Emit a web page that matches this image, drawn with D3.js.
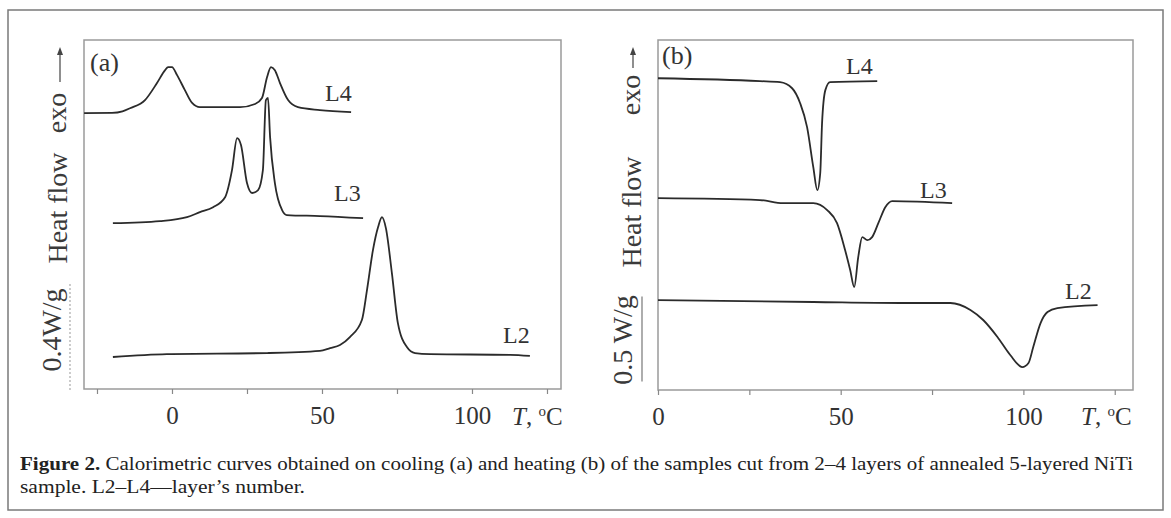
<!DOCTYPE html>
<html>
<head>
<meta charset="utf-8">
<style>
	body { margin: 0; background: #fff; }
	svg { display: block; font-family: "Liberation Serif", "Times New Roman", serif; }
	.curve { fill: none; stroke: #2b2b2b; stroke-width: 1.8px; }
	.frame { fill: none; stroke: #9a9a9a; stroke-width: 1.5px; }
	.lab { fill: #333; font-size: 24px; }
	.ylab { fill: #3a3a3a; font-size: 28px; }
</style>
</head>
<body>
<script src="https://cdn.jsdelivr.net/npm/d3@7"></script>
<script>

// ---- data (T in degC, heat flow in W/g, curves offset) ----

// (a) cooling
var tempA_L4 = [-29.3, -20, -16.5, -14, -9, -5, -2.3, -1.3, 0, 1.7, 4.3, 6.7, 9.3, 22.7, 27.7, 30, 31.7, 33, 34.3, 36, 38.7, 42, 49.3, 59.7];
var flowA_L4 = [1.051, 1.052, 1.058, 1.070, 1.101, 1.166, 1.215, 1.227, 1.227, 1.196, 1.139, 1.090, 1.074, 1.074, 1.086, 1.109, 1.189, 1.227, 1.215, 1.166, 1.101, 1.074, 1.063, 1.055];

var tempA_L3 = [-19.7, -4, 5, 9.3, 13.7, 17.7, 20, 21.7, 23, 25, 26.7, 28.7, 30.3, 31.3, 32, 32.7, 34.3, 36.7, 38.3, 49.3, 63.7];
var flowA_L3 = [0.632, 0.640, 0.655, 0.674, 0.693, 0.731, 0.834, 0.956, 0.930, 0.785, 0.747, 0.758, 0.834, 1.101, 1.109, 0.960, 0.785, 0.682, 0.663, 0.659, 0.651];

var tempA_L2 = [-19.7, -1.7, 31.7, 49.3, 52.7, 56, 59.3, 63.3, 65, 67, 68.7, 70, 71.3, 73.3, 75.3, 78.3, 81, 86, 112.7, 119.3];
var flowA_L2 = [0.122, 0.133, 0.137, 0.145, 0.156, 0.168, 0.198, 0.263, 0.377, 0.530, 0.617, 0.655, 0.613, 0.442, 0.251, 0.160, 0.137, 0.133, 0.130, 0.126];

// (b) heating
var tempB_L4 = [0, 27.9, 33.4, 36.7, 38.9, 40.8, 42.5, 43.6, 44.4, 44.9, 45.8, 47.1, 60];
var flowB_L4 = [1.835, 1.818, 1.812, 1.776, 1.688, 1.547, 1.312, 1.176, 1.276, 1.571, 1.765, 1.812, 1.818];

var tempB_L3 = [0, 27.9, 34.2, 42.5, 46.3, 49, 51.2, 52.6, 53.7, 54.8, 55.9, 57.3, 58.6, 60.3, 62.2, 64.1, 80.5];
var flowB_L3 = [1.129, 1.118, 1.100, 1.100, 1.059, 0.982, 0.824, 0.706, 0.606, 0.782, 0.900, 0.882, 0.900, 0.982, 1.076, 1.112, 1.100];

var tempB_L2 = [0, 42.5, 66.3, 80, 85.5, 89, 92.9, 96.4, 99.7, 101.4, 102.7, 104.7, 106.6, 109.3, 120.3];
var flowB_L2 = [0.529, 0.518, 0.512, 0.512, 0.471, 0.412, 0.312, 0.206, 0.135, 0.159, 0.253, 0.394, 0.459, 0.482, 0.500];

var ticksA = [-25, 0, 25, 50, 75, 100, 125];
var ticksB = [0, 25, 50, 75, 100, 125];
var tickLabels = [0, 50, 100];

var captionBold = "Figure 2.";
var captionLine1 = " Calorimetric curves obtained on cooling (a) and heating (b) of the samples cut from 2\u20134 layers of annealed 5-layered NiTi";
var captionLine2 = "sample. L2\u2013L4\u2014layer\u2019s number.";

// ---- setup ----
var W = 1171, H = 518;

var svg = d3.select("body").append("svg")
	.attr("width", W)
	.attr("height", H);

// outer frame of the figure
svg.append("rect")
	.attr("x", 8).attr("y", 10)
	.attr("width", 1155).attr("height", 500)
	.attr("fill", "none")
	.attr("stroke", "#7a7a7a")
	.attr("stroke-width", 1.5);

var xA = d3.scaleLinear().domain([-29.33, 129.67]).range([84, 561]);
var yA = d3.scaleLinear().domain([0, 1.33]).range([389, 40]);
var xB = d3.scaleLinear().domain([0, 130]).range([658, 1133]);
var yB = d3.scaleLinear().domain([0, 2.06]).range([390, 40]);

function zip(t, f) {
	return t.map(function(d, i) { return {t: d, f: f[i]}; });
}

function drawPanel(x, y, ticks, series) {
	var r0 = x.range(), r1 = y.range();

	// frame
	svg.append("rect")
		.attr("class", "frame")
		.attr("x", r0[0]).attr("y", r1[1])
		.attr("width", r0[1] - r0[0]).attr("height", r1[0] - r1[1]);

	// x axis
	var ax = svg.append("g")
		.attr("transform", "translate(0," + r1[0] + ")")
		.call(d3.axisBottom(x)
			.tickValues(ticks)
			.tickSize(5)
			.tickPadding(12)
			.tickFormat(function(d) { return tickLabels.indexOf(d) >= 0 ? d : ""; }));
	ax.select(".domain").remove();
	ax.selectAll(".tick line").attr("stroke", "#888").attr("stroke-width", 1.2);
	ax.selectAll(".tick text")
		.attr("fill", "#333")
		.style("font-family", "'Liberation Serif', serif")
		.style("font-size", "25px");

	var line = d3.line()
		.x(function(d) { return x(d.t); })
		.y(function(d) { return y(d.f); })
		.curve(d3.curveMonotoneX);

	series.forEach(function(s) {
		svg.append("path")
			.datum(s)
			.attr("class", "curve")
			.attr("d", line);
	});
}

drawPanel(xA, yA, ticksA, [zip(tempA_L4, flowA_L4), zip(tempA_L3, flowA_L3), zip(tempA_L2, flowA_L2)]);
drawPanel(xB, yB, ticksB, [zip(tempB_L4, flowB_L4), zip(tempB_L3, flowB_L3), zip(tempB_L2, flowB_L2)]);

// curve labels
function label(px, py, txt, size) {
	svg.append("text")
		.attr("class", "lab")
		.attr("x", px).attr("y", py)
		.style("font-size", (size || 24) + "px")
		.text(txt);
}
label(90, 71, "(a)", 26);
label(325, 101, "L4");
label(334, 201, "L3");
label(503, 343, "L2");

label(662, 64, "(b)", 26);
label(846, 74, "L4");
label(920, 198, "L3");
label(1065, 299, "L2");

// temperature axis titles
function tLabel(px, py) {
	var t = svg.append("text")
		.attr("class", "lab")
		.attr("x", px).attr("y", py)
		.style("font-size", "25px");
	t.append("tspan").style("font-style", "italic").text("T");
	t.append("tspan").text(", ");
	t.append("tspan").attr("dy", -9).style("font-size", "15px").text("o");
	t.append("tspan").attr("dy", 9).text("C");
}
tLabel(512, 425);
tLabel(1081, 425);

// rotated y-axis titles
function yText(px, py, txt) {
	svg.append("text")
		.attr("class", "ylab")
		.attr("transform", "translate(" + px + "," + py + ") rotate(-90)")
		.style("text-anchor", "middle")
		.text(txt);
}
function upArrow(px, yTop, yBot) {
	svg.append("line")
		.attr("x1", px).attr("x2", px)
		.attr("y1", yTop + 6).attr("y2", yBot)
		.attr("stroke", "#444").attr("stroke-width", 1.2);
	svg.append("path")
		.attr("d", "M" + px + "," + yTop + "L" + (px - 3) + "," + (yTop + 8) + "L" + (px + 3) + "," + (yTop + 8) + "Z")
		.attr("fill", "#444");
}

// (a)
yText(61, 330, "0.4W/g");
yText(67, 208, "Heat flow");
yText(66, 113, "exo");
upArrow(60, 47, 82);
svg.append("line")
	.attr("x1", 70).attr("x2", 70)
	.attr("y1", yA(0.4)).attr("y2", yA(-0.01))
	.attr("stroke", "#aaa").attr("stroke-width", 1.2)
	.attr("stroke-dasharray", "2,2");

// (b)
yText(632, 340, "0.5 W/g");
yText(641, 212, "Heat flow");
yText(640, 95, "exo");
upArrow(633, 47, 68);
svg.append("line")
	.attr("x1", 642).attr("x2", 642)
	.attr("y1", yB(0.55)).attr("y2", yB(0.05))
	.attr("stroke", "#777").attr("stroke-width", 1.2);

// caption
var cap1 = svg.append("text")
	.attr("x", 20).attr("y", 470)
	.attr("textLength", 1113)
	.attr("lengthAdjust", "spacingAndGlyphs")
	.style("font-size", "19px")
	.attr("fill", "#222");
cap1.append("tspan").style("font-weight", "bold").text(captionBold);
cap1.append("tspan").text(captionLine1);

svg.append("text")
	.attr("x", 20).attr("y", 493)
	.attr("textLength", 285)
	.attr("lengthAdjust", "spacingAndGlyphs")
	.style("font-size", "19px")
	.attr("fill", "#222")
	.text(captionLine2);

</script>
</body>
</html>
